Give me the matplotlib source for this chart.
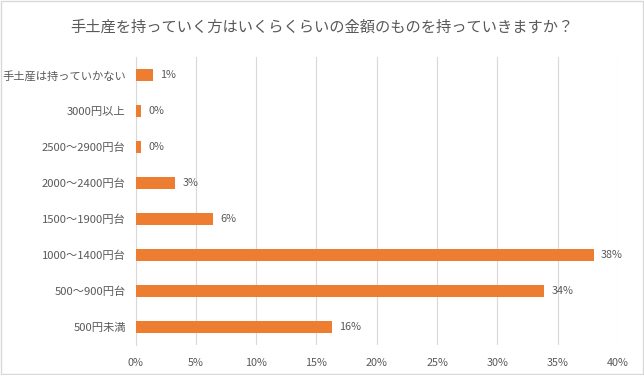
import matplotlib
matplotlib.use("Agg")
import matplotlib.pyplot as plt
from matplotlib.patches import Rectangle
import numpy as np

plt.rcParams['font.family'] = ['Noto Sans CJK JP', 'DejaVu Sans']

# categories top to bottom
categories = ["手土産は持っていかない", "3000円以上", "2500～2900円台", "2000～2400円台",
              "1500～1900円台", "1000～1400円台", "500～900円台", "500円未満"]
values = [1.45, 0.45, 0.45, 3.3, 6.4, 38.0, 33.9, 16.3]
x_ticks = [0, 5, 10, 15, 20, 25, 30, 35, 40]
title = "手土産を持っていく方はいくらくらいの金額のものを持っていきますか？"

bar_color = "#ED7D31"
text_color = "#595959"
grid_color = "#D9D9D9"

fig = plt.figure(figsize=(6.44, 3.75), dpi=100)
ax = fig.add_axes([135.5 / 644, 1 - 345 / 375, (618 - 135.5) / 644, (345 - 57) / 375])

y = np.arange(len(categories))
ax.barh(y, values, height=0.33, color=bar_color, zorder=3)
for yi, v in zip(y, values):
    ax.text(v + 0.6, yi, f"{v:.0f}%", va="center", ha="left", fontsize=7.8, color=text_color)

ax.set_ylim(len(categories) - 0.5, -0.5)
ax.set_xlim(0, 40)
ax.set_xticks(x_ticks)
ax.set_xticklabels([f"{t}%" for t in x_ticks], fontsize=7.8, color=text_color)
ax.set_yticks(y)
ax.set_yticklabels(categories, fontsize=8.1, color=text_color)
ax.tick_params(axis="both", length=0)
ax.tick_params(axis="x", pad=9)
ax.tick_params(axis="y", pad=7)
ax.grid(True, axis="x", color=grid_color, linewidth=0.8, zorder=0)
for s in ["top", "right", "bottom"]:
    ax.spines[s].set_visible(False)
ax.spines["left"].set_color(grid_color)

fig.text(0.5, 1 - 27 / 375, title, ha="center", va="center", fontsize=11, color=text_color)

# light frame round the chart
fig.patches.append(Rectangle((0.001, 0.002), 0.997, 0.995, transform=fig.transFigure,
                             fill=False, edgecolor=grid_color, linewidth=1))

fig.savefig("out.png", dpi=100)
